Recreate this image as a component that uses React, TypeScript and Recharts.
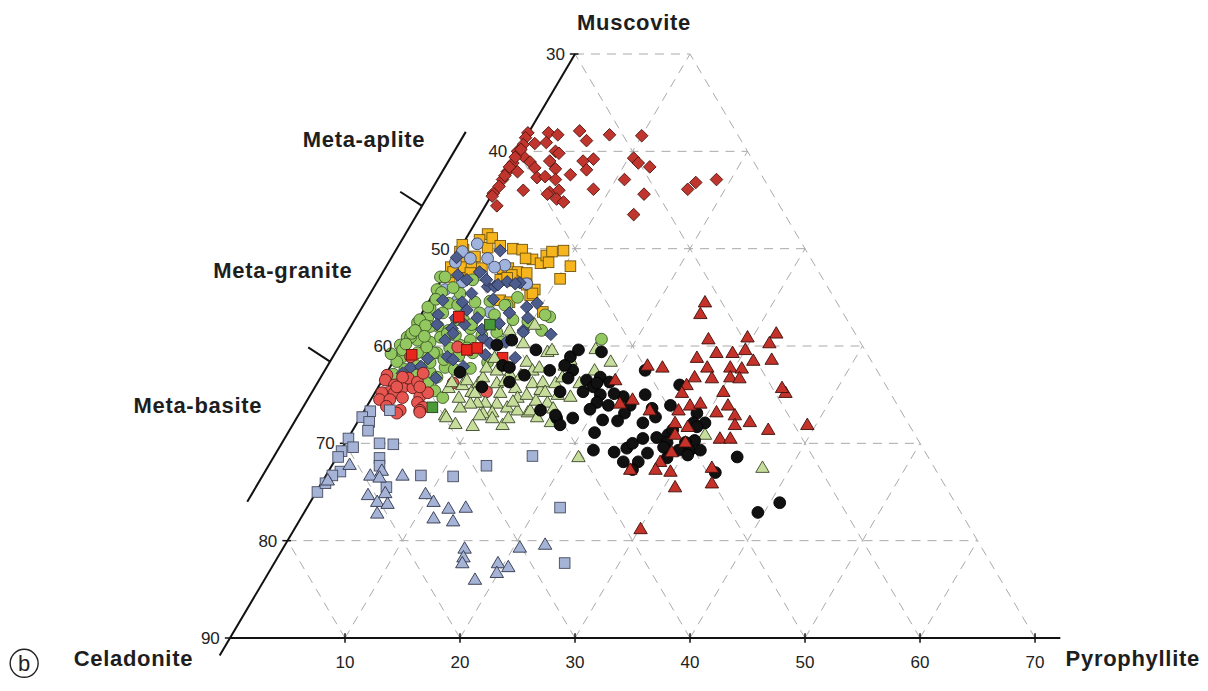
import { ScatterChart, Scatter, XAxis, YAxis, ReferenceLine, ReferenceDot } from "recharts";

// [x read on the bottom scale, Muscovite %]
const apliteDiamonds = [
  [25.9, 38.1], [25.7, 38.6], [27.7, 38.1], [28.5, 38.3], [30.4, 37.9], [31.0, 38.9], [33.0, 38.3], [35.8, 38.4],
  [25.0, 40.0], [25.5, 39.3], [26.5, 39.2], [27.5, 39.1], [28.3, 40.0], [28.6, 40.2], [25.5, 40.5], [26.1, 41.1],
  [24.6, 41.2], [24.1, 42.1], [25.0, 42.1], [26.5, 41.7], [27.8, 41.0], [28.3, 41.8], [30.7, 41.0], [31.6, 40.8],
  [31.0, 41.9], [35.1, 40.7], [35.5, 41.2], [36.5, 41.6], [29.6, 42.4], [26.7, 42.7], [27.4, 42.6], [28.3, 42.9],
  [23.7, 42.9], [25.5, 44.0], [27.8, 44.2], [28.6, 44.0], [27.6, 44.4], [28.4, 44.9], [29.0, 45.2], [31.6, 43.9],
  [34.3, 42.9], [36.0, 44.4], [39.8, 43.9], [40.5, 43.2], [42.3, 42.9], [22.9, 44.3], [22.8, 44.6], [23.2, 45.6],
  [35.1, 46.5], [24.3, 41.6], [23.9, 42.5], [24.8, 40.6], [25.3, 39.8], [23.4, 43.6],
];

const graniteSquares = [
  [22.4, 48.5], [21.7, 49.1], [20.0, 50.3], [20.3, 50.1], [21.3, 50.8], [20.0, 50.9], [22.4, 49.9], [24.6, 50.0],
  [25.4, 50.1], [26.3, 51.1], [27.0, 51.5], [27.5, 50.7], [28.0, 50.3], [29.0, 50.2], [29.6, 51.8], [28.7, 53.1],
  [19.2, 51.9], [20.2, 51.9], [21.0, 51.9], [21.9, 52.0], [23.7, 52.0], [24.2, 52.0], [25.0, 52.4], [25.8, 52.5],
  [19.1, 52.9], [20.7, 53.0], [23.5, 53.2], [24.6, 53.3], [26.1, 54.8], [26.5, 54.2], [23.5, 55.3], [24.3, 55.5],
  [24.5, 52.7], [25.8, 53.7], [26.3, 54.6], [27.2, 56.5], [19.4, 52.4], [20.9, 52.5], [24.1, 53.0], [22.8, 48.9],
  [23.5, 49.7], [20.2, 49.6], [25.7, 51.0], [27.7, 51.4],
];

const graniteCircles = [
  [21.5, 49.5], [22.4, 51.0], [23.9, 51.7], [23.0, 51.9], [25.8, 53.6], [20.2, 53.4], [22.6, 56.5], [29.6, 62.0],
  [20.2, 50.3], [20.9, 51.0], [21.9, 52.7], [19.8, 55.3], [18.7, 54.2], [19.6, 51.4],
];

const graniteDiamonds = [
  [23.5, 50.2], [19.7, 50.9], [19.8, 52.7], [20.6, 53.2], [21.7, 52.4], [22.4, 53.9], [23.0, 53.9], [25.2, 53.5],
  [24.1, 53.4], [22.3, 53.2], [23.3, 53.7], [24.8, 53.6], [18.5, 55.3], [20.2, 55.5], [20.6, 56.3], [18.1, 56.8],
  [19.6, 57.1], [21.5, 57.1], [25.8, 56.0], [25.9, 57.1], [25.5, 58.4], [20.4, 57.8], [19.3, 58.2], [19.4, 58.7],
  [22.0, 59.2], [22.6, 59.7], [25.5, 58.6], [18.9, 61.1], [19.4, 61.4], [22.2, 60.9], [15.7, 62.2], [15.0, 62.8],
  [18.7, 59.4], [20.9, 60.4], [21.0, 54.6], [22.9, 55.2], [24.3, 56.6], [23.4, 57.7], [21.9, 58.3], [17.2, 61.3],
  [20.3, 62.1], [17.9, 63.3], [16.6, 62.1], [18.0, 57.8], [24.0, 59.6], [26.7, 55.6], [27.9, 58.8], [24.8, 61.2],
];

const greenCircles = [
  [18.3, 52.9], [18.0, 54.2], [19.0, 55.6], [19.8, 55.8], [17.4, 56.1], [18.5, 56.6], [17.2, 57.1], [16.3, 57.6],
  [18.1, 58.0], [19.0, 58.4], [20.9, 58.2], [21.3, 55.5], [21.7, 56.6], [23.0, 56.8], [24.1, 55.8], [23.2, 58.6],
  [27.8, 57.0], [27.1, 58.4], [19.7, 57.3], [16.7, 58.7], [15.4, 59.1], [18.7, 52.9], [21.1, 53.2], [25.0, 55.0],
  [18.4, 54.5], [23.9, 55.8], [14.8, 59.9], [16.3, 59.4], [17.4, 59.6], [18.3, 59.1], [15.0, 61.1], [16.8, 60.6],
  [18.0, 60.7], [19.1, 60.2], [20.0, 59.9], [20.9, 59.4], [18.7, 62.2], [17.4, 62.7], [17.2, 63.8], [20.9, 62.3],
  [20.6, 60.2], [17.2, 56.0], [16.5, 57.3], [17.4, 58.0], [15.7, 59.1], [15.0, 60.4], [16.3, 60.7], [17.7, 60.7],
  [18.9, 58.7], [20.3, 57.3], [21.1, 60.7], [17.4, 61.7], [17.1, 60.1], [15.8, 58.7], [15.3, 59.8], [32.3, 59.3],
  [27.4, 56.8], [25.9, 57.5], [17.9, 55.2], [17.0, 57.9], [16.1, 58.4], [16.9, 59.0], [19.6, 58.9], [18.6, 61.4],
  [19.9, 61.0], [16.0, 61.8], [15.2, 62.4], [14.5, 61.6], [16.2, 63.0], [18.0, 63.2], [19.5, 62.4], [21.9, 58.9],
  [22.4, 61.7], [20.0, 54.6], [19.4, 54.0], [21.0, 57.8], [24.6, 57.3], [23.6, 59.6], [14.2, 62.9], [15.6, 64.0],
  [17.8, 64.6], [18.5, 65.3], [14.0, 60.8], [22.6, 55.4],
];

const basiteCircles = [
  [13.65, 63.0], [13.5, 63.5], [14.3, 64.0], [15.0, 64.3], [15.9, 64.3], [13.9, 64.7], [13.2, 64.8], [13.0, 65.5],
  [14.3, 64.8], [15.0, 65.3], [16.5, 65.2], [17.2, 64.8], [16.3, 65.8], [16.8, 66.3], [16.5, 66.6], [14.8, 66.6],
  [15.5, 63.3], [16.3, 63.7], [15.0, 63.2], [15.7, 61.1], [19.8, 60.1], [19.4, 63.8], [22.3, 64.7], [16.8, 62.8],
  [13.9, 65.5], [14.5, 64.2], [16.5, 64.2], [14.5, 66.9], [16.5, 66.8], [13.6, 66.2],
];

const redSquares = [[20.6, 60.4], [21.5, 60.2], [23.7, 61.2], [15.8, 60.9], [19.9, 57.0]];
const greenSquares = [[17.6, 66.3], [22.6, 57.8]];

const paleTriangles = [
  [25.5, 59.7], [27.6, 60.6], [28.0, 60.4], [25.8, 61.6], [26.3, 62.5], [29.1, 62.0], [19.0, 64.3], [19.3, 63.7],
  [20.2, 64.0], [20.6, 63.5], [21.0, 64.7], [21.6, 63.8], [22.0, 63.2], [22.3, 62.2], [23.2, 62.5], [23.2, 63.8],
  [23.5, 64.8], [24.3, 62.8], [24.8, 64.3], [25.0, 65.3], [25.8, 65.0], [26.3, 63.8], [27.0, 64.5], [27.2, 63.7],
  [28.3, 63.8], [28.5, 65.0], [22.2, 65.8], [21.5, 65.8], [20.9, 65.9], [23.2, 65.9], [24.1, 66.3], [22.8, 66.8],
  [22.0, 66.9], [25.0, 66.6], [25.9, 66.8], [27.6, 65.8], [18.7, 67.1], [20.0, 66.3], [29.6, 65.2], [27.4, 64.7],
  [24.3, 58.4], [26.5, 57.8], [18.8, 67.3], [21.7, 67.1], [22.8, 67.4], [23.7, 68.1], [24.2, 67.4], [26.1, 66.6],
  [26.7, 67.3], [28.1, 66.4], [29.6, 61.4], [31.7, 62.5], [41.3, 69.1], [46.3, 72.5], [30.3, 71.4],
  [19.9, 65.3], [21.3, 64.8], [23.9, 63.6], [25.3, 63.0], [26.9, 62.2], [24.6, 65.7], [26.6, 65.6], [28.9, 63.2],
  [30.4, 63.8], [21.1, 68.2], [19.6, 68.0], [27.9, 67.8], [23.0, 61.2], [31.8, 60.3], [33.1, 61.6],
];

const blackCircles = [
  [23.2, 59.9], [24.5, 59.4], [23.7, 62.0], [24.3, 62.2], [24.3, 63.7], [21.9, 64.2], [20.0, 62.7], [27.8, 62.5],
  [28.7, 64.7], [29.6, 61.1], [29.8, 62.5], [30.3, 60.4], [32.3, 60.6], [29.1, 62.0], [29.4, 63.3], [31.0, 63.5],
  [32.2, 63.2], [36.1, 62.5], [33.0, 63.7], [31.6, 64.2], [39.1, 64.0], [31.9, 63.8], [32.2, 65.0], [31.9, 65.8],
  [32.9, 66.1], [34.2, 65.2], [34.8, 66.1], [36.1, 65.0], [34.3, 66.9], [32.4, 67.6], [35.9, 67.9], [37.0, 67.3],
  [38.3, 66.1], [31.7, 68.9], [31.6, 70.7], [34.5, 70.5], [35.0, 70.0], [35.9, 69.5], [37.1, 69.4], [38.1, 69.1],
  [38.5, 68.6], [38.0, 69.9], [39.0, 70.7], [40.0, 70.7], [39.8, 71.2], [40.9, 70.7], [40.6, 66.9], [40.3, 67.9],
  [41.3, 67.9], [40.6, 68.3], [40.4, 69.7], [39.6, 69.9], [34.2, 71.9], [35.5, 71.9], [35.0, 72.7], [38.0, 71.5],
  [44.1, 71.4], [42.2, 73.0], [45.9, 77.1], [47.8, 76.1], [28.4, 67.4], [28.7, 68.1], [27.0, 66.6], [28.3, 67.1],
  [30.7, 64.7], [33.4, 64.9], [31.3, 66.5], [33.7, 67.7], [36.7, 66.4], [37.7, 70.4], [33.4, 70.9], [36.3, 71.0],
  [29.8, 67.4], [25.6, 63.0], [26.6, 60.4],
];

const redTriangles = [
  [41.3, 55.5], [40.9, 56.7], [41.6, 59.3], [45.0, 59.1], [47.5, 58.7], [46.9, 59.7], [42.3, 60.7], [43.7, 60.7],
  [40.6, 61.2], [41.5, 62.2], [43.5, 62.2], [44.5, 62.3], [45.5, 61.5], [36.3, 62.0], [37.6, 62.2], [40.4, 63.2],
  [41.9, 63.3], [43.5, 63.2], [44.3, 63.3], [33.5, 63.5], [39.7, 64.0], [39.3, 64.8], [42.9, 64.7], [48.3, 64.8],
  [33.9, 65.9], [35.0, 65.5], [36.5, 66.6], [39.0, 66.6], [40.0, 66.1], [40.9, 65.9], [42.3, 66.8], [43.3, 66.1],
  [43.9, 67.1], [45.2, 67.8], [46.8, 68.6], [50.2, 68.1], [38.7, 67.9], [39.8, 68.3], [43.9, 68.1], [42.6, 69.5],
  [43.5, 69.5], [38.7, 69.1], [39.6, 69.9], [38.4, 70.9], [37.4, 71.9], [38.3, 72.9], [37.0, 72.7], [34.8, 72.7],
  [41.9, 72.5], [41.9, 74.1], [38.7, 74.5], [35.7, 78.8], [44.8, 60.4], [47.1, 61.4], [48.0, 64.3],
];

const blueSquares = [
  [12.2, 66.7], [11.5, 67.3], [12.1, 67.8], [12.0, 68.7], [13.9, 66.6], [10.3, 69.5], [13.0, 70.0], [14.2, 70.1],
  [9.7, 70.8], [9.4, 71.4], [13.0, 71.5], [13.0, 72.3], [9.6, 72.9], [8.9, 73.3], [7.6, 75.0], [16.6, 73.3],
  [19.4, 73.4], [13.6, 74.5], [22.3, 72.3], [26.3, 71.3], [28.7, 76.6], [29.1, 82.3], [8.3, 74.1], [10.7, 70.4],
];

const blueTriangles = [
  [10.4, 72.2], [8.5, 73.8], [12.2, 73.3], [13.2, 72.8], [13.0, 73.5], [15.0, 73.3], [12.0, 75.3], [13.5, 75.1],
  [12.8, 76.0], [13.7, 76.2], [12.8, 77.2], [17.0, 75.2], [17.7, 76.0], [17.7, 77.7], [19.0, 76.7], [19.4, 78.0],
  [20.5, 76.6], [20.4, 80.8], [20.3, 81.7], [20.2, 82.3], [21.3, 84.0], [23.3, 82.3], [24.2, 82.7], [23.2, 83.3],
  [25.2, 80.7], [27.4, 80.4],
];

const muscoviteTicks = [30, 40, 50, 60, 70, 80, 90];
const bottomTicks = [10, 20, 30, 40, 50, 60, 70];
const gridLevels = [30, 40, 50, 60, 70, 80];
const upRightLines = [10, 20, 30, 40, 50, 60];
const upLeftLines = [10, 20, 30, 40, 50, 60, 70];
const rockBreaks = [45.6, 61.6];

const toPts = (arr: number[][]) => arr.map(([x, m]) => ({ x, m }));

// left edge of the diagram (Celadonite - Muscovite join) and right edge
const leftEdge = (m: number) => (90 - m) / 2;
const rightEdge = (m: number) => (50 + m) / 2;

const FONT = "'Liberation Sans', Arial, Helvetica, sans-serif";
const GRID = { stroke: "#aaaaaa", strokeDasharray: "9 7", strokeWidth: 1 };

type Kind = "circle" | "square" | "diamond" | "triangle";

function marker(kind: Kind, fill: string, stroke: string) {
  return (props: any) => {
    const { cx, cy } = props;
    if (cx == null || cy == null) return <g />;
    const sw = 0.9;
    if (kind === "circle") return <circle cx={cx} cy={cy} r={5.9} fill={fill} stroke={stroke} strokeWidth={sw} />;
    if (kind === "square")
      return <rect x={cx - 5.3} y={cy - 5.3} width={10.6} height={10.6} fill={fill} stroke={stroke} strokeWidth={sw} />;
    if (kind === "diamond")
      return (
        <polygon
          points={`${cx},${cy - 6.3} ${cx + 6.3},${cy} ${cx},${cy + 6.3} ${cx - 6.3},${cy}`}
          fill={fill}
          stroke={stroke}
          strokeWidth={sw}
        />
      );
    return (
      <polygon
        points={`${cx},${cy - 6.7} ${cx + 6.7},${cy + 4.7} ${cx - 6.7},${cy + 4.7}`}
        fill={fill}
        stroke={stroke}
        strokeWidth={sw}
      />
    );
  };
}

const series = [
  { name: "granite squares", data: graniteSquares, kind: "square", fill: "#f6b51c", stroke: "#6e5210" },
  { name: "granite circles", data: graniteCircles, kind: "circle", fill: "#9fb3dd", stroke: "#3c4360" },
  { name: "green circles", data: greenCircles, kind: "circle", fill: "#93c760", stroke: "#3d5a28" },
  { name: "granite diamonds", data: graniteDiamonds, kind: "diamond", fill: "#4c5c8c", stroke: "#262d4a" },
  { name: "basite circles", data: basiteCircles, kind: "circle", fill: "#e75550", stroke: "#5a1c1a" },
  { name: "red squares", data: redSquares, kind: "square", fill: "#e8261c", stroke: "#6a1410" },
  { name: "green squares", data: greenSquares, kind: "square", fill: "#4b9a3a", stroke: "#24401c" },
  { name: "pale triangles", data: paleTriangles, kind: "triangle", fill: "#c7dd9c", stroke: "#3a4628" },
  { name: "black circles", data: blackCircles, kind: "circle", fill: "#111111", stroke: "#000000" },
  { name: "red triangles", data: redTriangles, kind: "triangle", fill: "#c4322a", stroke: "#3a0e0a" },
  { name: "aplite diamonds", data: apliteDiamonds, kind: "diamond", fill: "#c0352d", stroke: "#4e1410" },
  { name: "blue squares", data: blueSquares, kind: "square", fill: "#a5b3d6", stroke: "#454b5e" },
  { name: "blue triangles", data: blueTriangles, kind: "triangle", fill: "#a5b3d6", stroke: "#30364a" },
];

const titleLabel = (value: string) => ({
  value,
  position: "center" as const,
  fontSize: 22,
  fontWeight: "bold",
  fill: "#1e1e1e",
  letterSpacing: 0.7,
});

export default function App() {
  return (
    <div
      style={{ position: "absolute", left: 0, top: 0, width: 1208, height: 691, background: "#fff", fontFamily: FONT }}
    >
      <ScatterChart width={1208} height={691} margin={{ top: 0, right: 0, bottom: 0, left: 0 }}>
        <XAxis
          type="number"
          dataKey="x"
          domain={[-20, 85.04]}
          allowDataOverflow
          ticks={bottomTicks}
          axisLine={false}
          tickLine={false}
          tickSize={0}
          tickMargin={18}
          height={53}
          tick={{ fontSize: 17, fill: "#222" }}
        />
        <YAxis type="number" dataKey="m" domain={[24.452, 90]} allowDataOverflow reversed hide />

        {gridLevels.map((m) => (
          <ReferenceLine
            key={`h${m}`}
            segment={[{ x: leftEdge(m), y: m }, { x: rightEdge(m), y: m }]}
            ifOverflow="visible"
            {...GRID}
          />
        ))}
        {upRightLines.map((c) => {
          const top = Math.max(30, 20 + c);
          return (
            <ReferenceLine
              key={`ur${c}`}
              segment={[{ x: c, y: 90 }, { x: c + leftEdge(top), y: top }]}
              ifOverflow="visible"
              {...GRID}
            />
          );
        })}
        {upLeftLines.map((c) => {
          const top = Math.max(30, 90 - c);
          return (
            <ReferenceLine
              key={`ul${c}`}
              segment={[{ x: c, y: 90 }, { x: c - leftEdge(top), y: top }]}
              ifOverflow="visible"
              {...GRID}
            />
          );
        })}

        {/* axes */}
        <ReferenceLine
          segment={[{ x: 0, y: 90 }, { x: 72.2, y: 90 }]}
          ifOverflow="visible"
          stroke="#111"
          strokeWidth={2}
        />
        <ReferenceLine
          segment={[{ x: leftEdge(91.8), y: 91.8 }, { x: leftEdge(30), y: 30 }]}
          ifOverflow="visible"
          stroke="#111"
          strokeWidth={2}
        />
        {bottomTicks.map((c) => (
          <ReferenceLine
            key={`bt${c}`}
            segment={[{ x: c, y: 89.5 }, { x: c, y: 90.5 }]}
            ifOverflow="visible"
            stroke="#111"
            strokeWidth={1.5}
          />
        ))}
        {muscoviteTicks.map((m) => (
          <ReferenceLine
            key={`lt${m}`}
            segment={[{ x: leftEdge(m) - 0.45, y: m }, { x: leftEdge(m) + 0.3, y: m }]}
            ifOverflow="visible"
            stroke="#111"
            strokeWidth={1.5}
            label={{ value: String(m), position: "left", offset: 5, fontSize: 17, fill: "#222" }}
          />
        ))}

        {/* rock type bar */}
        <ReferenceLine
          segment={[{ x: leftEdge(76) - 5.5, y: 76 }, { x: leftEdge(38) - 5.5, y: 38 }]}
          ifOverflow="visible"
          stroke="#111"
          strokeWidth={2}
        />
        {rockBreaks.map((m) => (
          <ReferenceLine
            key={`rb${m}`}
            segment={[{ x: leftEdge(m) - 5.5, y: m }, { x: leftEdge(m) - 7.4, y: m - 1.45 }]}
            ifOverflow="visible"
            stroke="#111"
            strokeWidth={2}
          />
        ))}

        {series.map((s) => (
          <Scatter
            key={s.name}
            name={s.name}
            data={toPts(s.data)}
            shape={marker(s.kind as Kind, s.fill, s.stroke)}
            isAnimationActive={false}
          />
        ))}

        <ReferenceDot x={35.13} y={26.76} r={0} fill="none" stroke="none" ifOverflow="visible" label={titleLabel("Muscovite")} />
        <ReferenceDot x={-8.4} y={92.1} r={0} fill="none" stroke="none" ifOverflow="visible" label={titleLabel("Celadonite")} />
        <ReferenceDot x={78.5} y={92.1} r={0} fill="none" stroke="none" ifOverflow="visible" label={titleLabel("Pyrophyllite")} />
        <ReferenceDot x={11.65} y={38.8} r={0} fill="none" stroke="none" ifOverflow="visible" label={titleLabel("Meta-aplite")} />
        <ReferenceDot x={4.6} y={52.2} r={0} fill="none" stroke="none" ifOverflow="visible" label={titleLabel("Meta-granite")} />
        <ReferenceDot x={-2.8} y={66.1} r={0} fill="none" stroke="none" ifOverflow="visible" label={titleLabel("Meta-basite")} />
        <ReferenceDot
          x={-17.9}
          y={92.6}
          r={14}
          fill="none"
          stroke="#222"
          strokeWidth={1.4}
          ifOverflow="visible"
          label={{ value: "b", position: "center", fontSize: 22, fill: "#222" }}
        />
      </ScatterChart>
    </div>
  );
}
